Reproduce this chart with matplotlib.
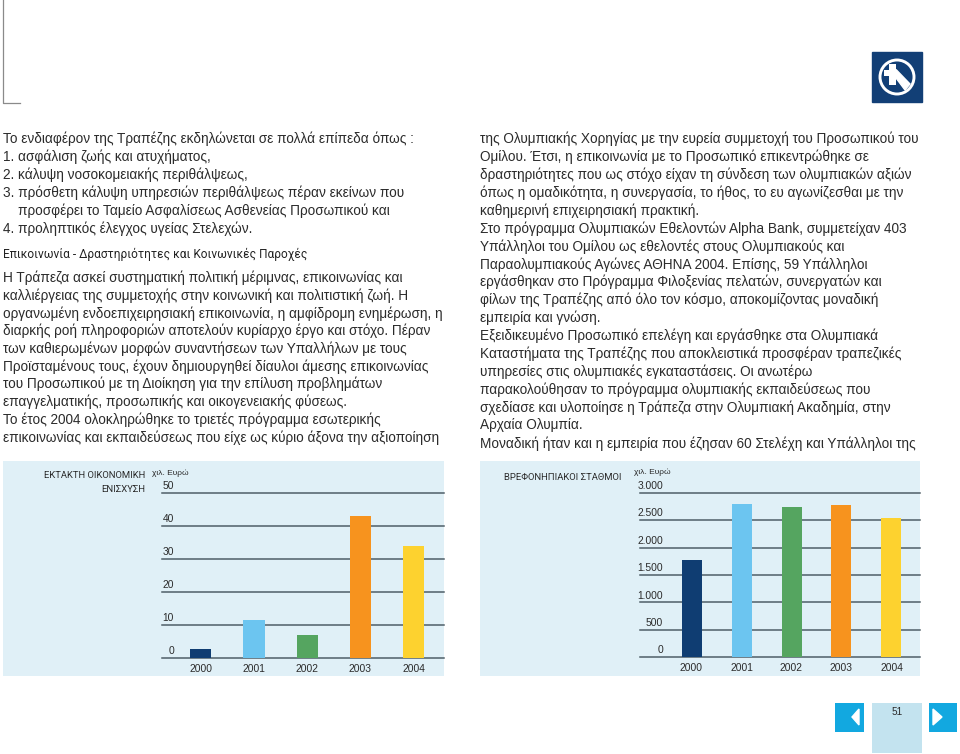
import matplotlib
matplotlib.use('Agg')
import matplotlib.pyplot as plt
from matplotlib.patches import Rectangle, Circle, Polygon
from matplotlib.transforms import ScaledTranslation

W, H = 960, 754
BODY = 'Liberation Sans'
NARROW = 'Roboto'
TEXT_COL = '#2b2b2b'

years = ['2000', '2001', '2002', '2003', '2004']
bar_colors = ['#0f3d72', '#6cc5f0', '#55a560', '#f7931e', '#fdd22f']

aid_values = [2.8, 11.6, 6.9, 43, 33.9]
aid_ticks = [0, 10, 20, 30, 40, 50]
aid_labels = ['0', '10', '20', '30', '40', '50']

nursery_values = [1768, 2795, 2734, 2777, 2533]
nursery_ticks = [0, 500, 1000, 1500, 2000, 2500, 3000]
nursery_labels = ['0', '500', '1.000', '1.500', '2.000', '2.500', '3.000']

left_top = [
    'Το ενδιαφέρον της Τραπέζης εκδηλώνεται σε πολλά επίπεδα όπως :',
    '1. ασφάλιση ζωής και ατυχήματος,',
    '2. κάλυψη νοσοκομειακής περιθάλψεως,',
    '3. πρόσθετη κάλυψη υπηρεσιών περιθάλψεως πέραν εκείνων που',
    '    προσφέρει το Ταμείο Ασφαλίσεως Ασθενείας Προσωπικού και',
    '4. προληπτικός έλεγχος υγείας Στελεχών.',
]
heading = 'Επικοινωνία - Δραστηριότητες και Κοινωνικές Παροχές'
left_bottom = [
    'Η Τράπεζα ασκεί συστηματική πολιτική μέριμνας, επικοινωνίας και',
    'καλλιέργειας της συμμετοχής στην κοινωνική και πολιτιστική ζωή. Η',
    'οργανωμένη ενδοεπιχειρησιακή επικοινωνία, η αμφίδρομη ενημέρωση, η',
    'διαρκής ροή πληροφοριών αποτελούν κυρίαρχο έργο και στόχο. Πέραν',
    'των καθιερωμένων μορφών συναντήσεων των Υπαλλήλων με τους',
    'Προϊσταμένους τους, έχουν δημιουργηθεί δίαυλοι άμεσης επικοινωνίας',
    'του Προσωπικού με τη Διοίκηση για την επίλυση προβλημάτων',
    'επαγγελματικής, προσωπικής και οικογενειακής φύσεως.',
    'Το έτος 2004 ολοκληρώθηκε το τριετές πρόγραμμα εσωτερικής',
    'επικοινωνίας και εκπαιδεύσεως που είχε ως κύριο άξονα την αξιοποίηση',
]
right_text = [
    'της Ολυμπιακής Χορηγίας με την ευρεία συμμετοχή του Προσωπικού του',
    'Ομίλου. Έτσι, η επικοινωνία με το Προσωπικό επικεντρώθηκε σε',
    'δραστηριότητες που ως στόχο είχαν τη σύνδεση των ολυμπιακών αξιών',
    'όπως η ομαδικότητα, η συνεργασία, το ήθος, το ευ αγωνίζεσθαι με την',
    'καθημερινή επιχειρησιακή πρακτική.',
    'Στο πρόγραμμα Ολυμπιακών Εθελοντών Alpha Bank, συμμετείχαν 403',
    'Υπάλληλοι του Ομίλου ως εθελοντές στους Ολυμπιακούς και',
    'Παραολυμπιακούς Αγώνες ΑΘΗΝΑ 2004. Επίσης, 59 Υπάλληλοι',
    'εργάσθηκαν στο Πρόγραμμα Φιλοξενίας πελατών, συνεργατών και',
    'φίλων της Τραπέζης από όλο τον κόσμο, αποκομίζοντας μοναδική',
    'εμπειρία και γνώση.',
    'Εξειδικευμένο Προσωπικό επελέγη και εργάσθηκε στα Ολυμπιακά',
    'Καταστήματα της Τραπέζης που αποκλειστικά προσφέραν τραπεζικές',
    'υπηρεσίες στις ολυμπιακές εγκαταστάσεις. Οι ανωτέρω',
    'παρακολούθησαν το πρόγραμμα ολυμπιακής εκπαιδεύσεως που',
    'σχεδίασε και υλοποίησε η Τράπεζα στην Ολυμπιακή Ακαδημία, στην',
    'Αρχαία Ολυμπία.',
    'Μοναδική ήταν και η εμπειρία που έζησαν 60 Στελέχη και Υπάλληλοι της',
]

fig = plt.figure(figsize=(W / 100, H / 100), dpi=100, facecolor='white')

# page layer in pixel coordinates
page = fig.add_axes([0, 0, 1, 1])
page.set_xlim(0, W)
page.set_ylim(H, 0)
page.axis('off')


def text_block(lines, x, y0, step, size=9.8):
    for i, line in enumerate(lines):
        page.text(x, y0 + i * step, line, fontsize=size, family=BODY,
                  color=TEXT_COL, va='center', ha='left')


text_block(left_top, 3, 139, 17.9)
page.text(3, 254, heading, fontsize=8.6, family=NARROW, color='#222222',
          va='center', ha='left')
text_block(left_bottom, 3, 278, 17.7)
text_block(right_text, 480, 139, 17.9)

# crop mark
page.plot([3, 3, 20], [0, 103, 103], color='#8a8a8a', lw=0.9)

# logo
page.add_patch(Rectangle((872, 52), 50, 50, color='#123f76'))
page.add_patch(Circle((897, 77), 17, fc='none', ec='white', lw=2.1))
page.add_patch(Rectangle((889, 64), 7, 21, color='white', lw=0))
page.add_patch(Rectangle((884, 70), 12, 5.5, color='white', lw=0))
page.add_patch(Polygon([[896, 69.5], [910, 84], [905, 90], [896, 78]], color='white'))

# chart panels
page.add_patch(Rectangle((3, 461), 441, 215, color='#e0f0f7', lw=0))
page.add_patch(Rectangle((480, 461), 440, 215, color='#e0f0f7', lw=0))

# page number and arrows
page.add_patch(Rectangle((835, 703), 29, 29, color='#12a8e0', lw=0))
page.add_patch(Polygon([[859, 709], [859, 725], [852, 717]], color='white'))
page.add_patch(Rectangle((872, 703), 50, 50, color='#c3e3ef', lw=0))
page.add_patch(Rectangle((929, 703), 28, 29, color='#12a8e0', lw=0))
page.add_patch(Polygon([[933, 709], [933, 725], [942, 717]], color='white'))
page.text(897, 712, '51', fontsize=7.2, family=BODY, color=TEXT_COL, ha='center', va='center')

title_font = dict(fontsize=6.8, family=NARROW, color=TEXT_COL, va='center', ha='right')
page.text(145, 475, 'ΕΚΤΑΚΤΗ ΟΙΚΟΝΟΜΙΚΗ', **title_font)
page.text(145, 489, 'ΕΝΙΣΧΥΣΗ', **title_font)
page.text(621, 477, 'ΒΡΕΦΟΝΗΠΙΑΚΟΙ ΣΤΑΘΜΟΙ', **title_font)
page.text(152.5, 473, 'χιλ. Ευρώ', fontsize=6, family=BODY, color=TEXT_COL, ha='left', va='center')
page.text(634, 472, 'χιλ. Ευρώ', fontsize=6, family=BODY, color=TEXT_COL, ha='left', va='center')


def bar_chart(x0, x1, y_top, y_bot, values, ticks, labels, xlim, pad, bar_w):
    ax = fig.add_axes([x0 / W, 1 - y_bot / H, (x1 - x0) / W, (y_bot - y_top) / H])
    ax.patch.set_alpha(0)
    ax.bar(range(len(years)), values, width=bar_w, color=bar_colors, zorder=3)
    ax.set_xlim(*xlim)
    ax.set_ylim(ticks[0], ticks[-1])
    for s in ax.spines.values():
        s.set_visible(False)
    ax.set_xticks(range(len(years)))
    ax.set_xticklabels(years, fontsize=7.4, family=BODY, color=TEXT_COL)
    ax.set_yticks(ticks)
    ax.set_yticklabels(labels, fontsize=7.4, family=BODY, color=TEXT_COL, va='bottom')
    ax.tick_params(axis='both', length=0)
    ax.tick_params(axis='x', pad=4.2)
    ax.tick_params(axis='y', pad=pad)
    ax.grid(axis='y', color='#4f5f68', lw=1.1, zorder=1)
    ax.set_axisbelow(True)
    for g in ax.get_ygridlines():
        g.set_clip_on(False)
    # labels sit a little clear of their lines
    lift = ScaledTranslation(0, 1.3 / 72, fig.dpi_scale_trans)
    for lab in ax.get_yticklabels():
        lab.set_transform(lab.get_transform() + lift)
    return ax


bar_chart(162, 444, 492.7, 658.3, aid_values, aid_ticks, aid_labels, (-0.73, 4.57), -8.6, 0.4)
bar_chart(640, 920, 492.7, 657.3, nursery_values, nursery_ticks, nursery_labels, (-1.03, 4.57), -16.6, 0.4)

fig.savefig('out.png', dpi=100)
